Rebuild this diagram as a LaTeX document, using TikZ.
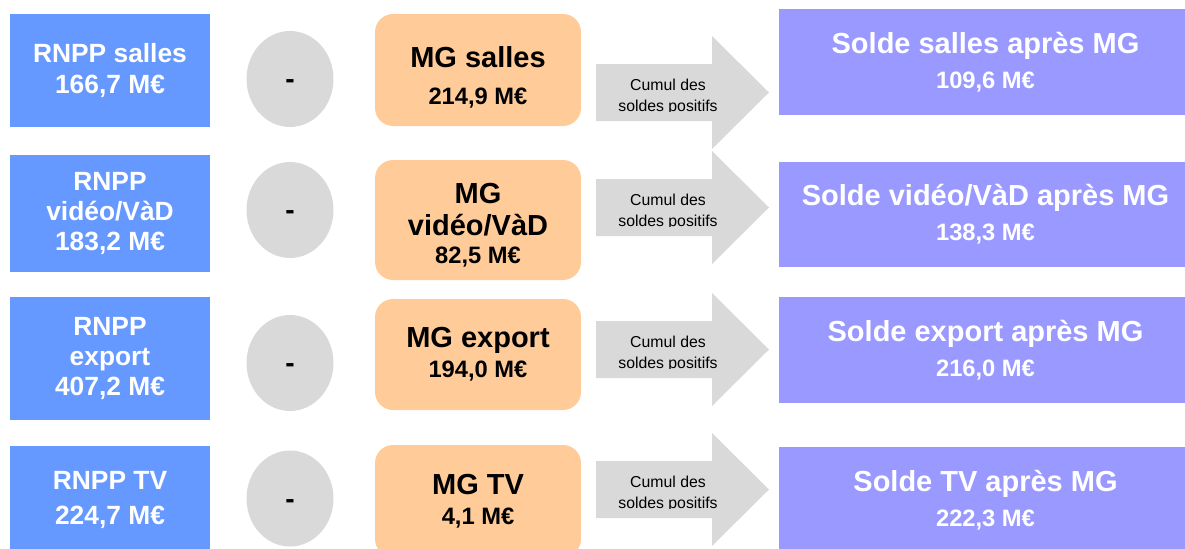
\documentclass[tikz,border=0pt]{standalone}
\usepackage{fontspec}
\setmainfont{Liberation Sans}
\usetikzlibrary{calc, shapes.geometric}
\definecolor{rnppBlue}{HTML}{6699FF}
\definecolor{mgOrange}{HTML}{FFCC99}
\definecolor{soldeViolet}{HTML}{9999FF}
\definecolor{cumulGrey}{HTML}{D9D9D9}
\newcommand\montant{\fontsize{13.5}{17}\selectfont}

\begin{document}
\begin{tikzpicture}[x=0.02cm, y=-0.02cm,
    rnpp/.style={fill=rnppBlue, text=white, minimum width=4cm, align=center,
      font=\bfseries\fontsize{15}{17}\selectfont},
    moins/.style={ellipse, fill=cumulGrey, minimum width=1.74cm, minimum height=1.92cm,
      font=\bfseries\fontsize{16}{18}\selectfont},
    mg/.style={fill=mgOrange, rounded corners=0.36cm, minimum width=4.12cm, align=center,
      font=\bfseries\fontsize{16.5}{17}\selectfont},
    solde/.style={fill=soldeViolet, text=white, minimum width=8.26cm, align=center,
      font=\bfseries\fontsize{16.5}{20}\selectfont},
    cumul/.style={font=\fontsize{9}{11}\selectfont, anchor=base}]
    \useasboundingbox (0,0) rectangle (1185,548);
    \clip (0,0) rectangle (1185,548);
    \foreach \rt/\ry/\rh/\ey/\mt/\my/\mh/\ay/\st/\sy/\sh [count=\i] in
      {{RNPP salles\\[1pt]166,7 M€}/70.5/113/79/{\rule{0pt}{20pt}MG salles\\[4pt]\montant 214,9 M€}/70/112/92.5/{Solde salles après MG\\\montant 109,6 M€}/62/106,
       {RNPP\\vidéo/VàD\\183,2 M€}/213.5/117/210/{\rule{0pt}{17.5pt}MG\\[1pt]vidéo/VàD\\[-1pt]\montant 82,5 M€}/220/120/207.5/{Solde vidéo/VàD après MG\\\montant 138,3 M€}/214.5/105,
       {RNPP\\export\\407,2 M€}/358.5/123/363/{MG export\\\montant 194,0 M€}/354.5/111/349.5/{Solde export après MG\\\montant 216,0 M€}/350/106,
       {RNPP TV\\[3pt]224,7 M€\rule[-7pt]{0pt}{7pt}}/504/117/498.5/{MG TV\\\montant 4,1 M€}/501/112/489.5/{Solde TV après MG\\\montant 222,3 M€}/500/106} {
      \node[rnpp, minimum height=\rh*0.02cm] (rnpp\i) at (110,\ry) {\rt};
      \node[moins] (moins\i) at (290,\ey) {\raisebox{-5.5pt}[0pt][0pt]{-}};
      \node[mg, minimum height=\mh*0.02cm] (mg\i) at (478,\my) {\mt};
      \node[solde, minimum height=\sh*0.02cm] (solde\i) at (985.5,\sy) {\st};
      % fleche grise
      \coordinate (queue\i) at (596,\ay);
      \fill[cumulGrey] ($(queue\i)+(0,-28.5)$) -- ++(116,0) -- ++(0,-28)
        -- ($(queue\i)+(173,0)$) -- ($(queue\i)+(116,56.5)$) -- ++(0,-28)
        -- ($(queue\i)+(0,28.5)$) -- cycle;
      \begin{scope}
        \clip ($(queue\i)+(0,-60)$) rectangle ($(queue\i)+(180,19)$);
        \node[cumul] (cumulA\i) at ($(queue\i)+(72,-2.5)$) {Cumul des};
        \node[cumul] (cumulB\i) at ($(queue\i)+(72,18.5)$) {soldes positifs};
      \end{scope}
    }
\end{tikzpicture}
\end{document}
